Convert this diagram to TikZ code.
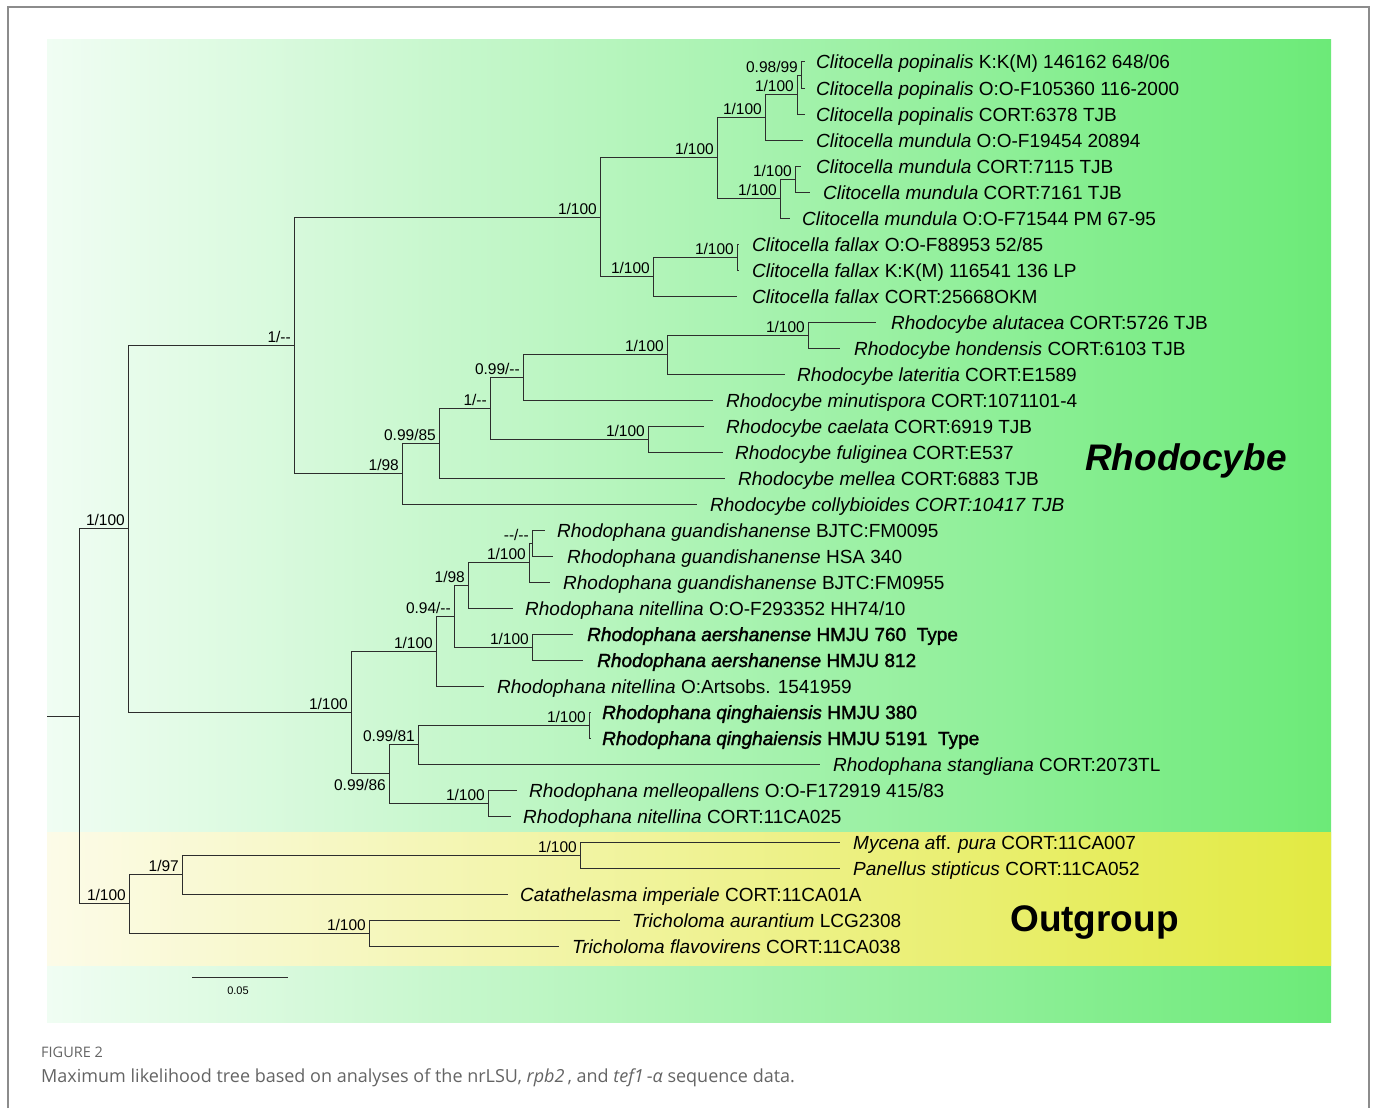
\documentclass[tikz,border=0pt]{standalone}
\usepackage{fontspec}
\setmainfont{Liberation Sans}
\newfontfamily\capfont{Open Sans}
\newfontfamily\fbold{Liberation Sans}[FakeBold=1.6]
\usetikzlibrary{calc}
\definecolor{gl}{RGB}{240,253,243}
\definecolor{gr}{RGB}{108,234,120}
\definecolor{yl}{RGB}{252,251,232}
\definecolor{yr}{RGB}{226,234,66}
\definecolor{br}{RGB}{45,45,45}
\definecolor{framegray}{RGB}{140,140,140}
\definecolor{capgray}{RGB}{100,100,100}
\newcommand\dd{-\kern0pt-}
\newcommand\tb[2]{{\fbold\itshape #1} {\fbold #2}}
\tikzset{
  branch/.style={draw=br, line width=1pt},
  taxon/.style={anchor=base west, inner sep=0pt, font=\fontsize{19}{19}\selectfont},
  supp/.style={anchor=base east, inner sep=0pt, font=\fontsize{15.5}{15.5}\selectfont},
  biglab/.style={anchor=base west, inner sep=0pt, font=\fontsize{37}{37}\selectfont\bfseries},
  capt/.style={anchor=base west, inner sep=0pt, text=capgray},
}
% #1 name, #2 parent, #3 row y, #4 line end x, #5 text x, #6 text
\newcommand\mytip[6]{%
  \coordinate (#1e) at (#4,#3);
  \node[taxon] (#1) at (#5,#3+7) {#6};
  \draw[branch] (#2) |- (#1e);
}
% #1 node, #2 text
\newcommand\mysupp[2]{%
  \node[supp] (l#1) at ($(#1)+(-3,-3)$) {#2};
}
\begin{document}
\begin{tikzpicture}[x=1pt,y=-1pt]
\useasboundingbox (0,0) rectangle (1375,1108);
% backgrounds
\shade[left color=gl, right color=gr] (47,40) rectangle (1331,1022);
\shade[left color=yl, right color=yr] (47,832) rectangle (1331,965);
\draw[framegray, line width=1.5pt] (8,1108) -- (8,7) -- (1369,7) -- (1369,1108);

% internal nodes
\coordinate (root) at (47,716.3);
\coordinate (nA) at (79,716.3);
\coordinate (nB) at (128,528.9);
\coordinate (nC) at (294,345.4);
\coordinate (nD) at (600,217.2);
\coordinate (nF) at (717,157.9);
\coordinate (nI) at (765,117.25);
\coordinate (nK) at (797,94.5);
\coordinate (nL) at (801,75);
\coordinate (nJ) at (780,198.5);
\coordinate (nM) at (795,179);
\coordinate (nG) at (653,276.5);
\coordinate (nH) at (737,257);
\coordinate (nE) at (402,473.5);
\coordinate (nN) at (439,443);
\coordinate (nP) at (490,408.1);
\coordinate (nQ) at (523,377.25);
\coordinate (nT) at (667,354.5);
\coordinate (nU) at (808,335);
\coordinate (nS) at (648,439);
\coordinate (nR) at (351,712.4);
\coordinate (nV) at (436,651);
\coordinate (nX) at (454,616.1);
\coordinate (nY) at (468,585.25);
\coordinate (nAA) at (529,562.5);
\coordinate (nAB) at (532,543);
\coordinate (nZ) at (532,647);
\coordinate (nW) at (389,773.75);
\coordinate (nAC) at (418,744.5);
\coordinate (nAE) at (589,725);
\coordinate (nAD) at (488,803);
\coordinate (nO) at (129,903.75);
\coordinate (nP1) at (182,874.5);
\coordinate (nP2) at (580,855);
\coordinate (nP3) at (369,933);

% internal branches
\draw[branch] (root) -- (nA);
\foreach \p/\c in {nA/nB, nA/nO, nB/nC, nB/nR, nC/nD, nC/nE, nD/nF, nD/nG,
  nF/nI, nF/nJ, nI/nK, nK/nL, nJ/nM, nG/nH, nE/nN, nN/nP, nP/nQ, nP/nS,
  nQ/nT, nT/nU, nR/nV, nR/nW, nV/nX, nX/nY, nX/nZ, nY/nAA, nAA/nAB,
  nW/nAC, nW/nAD, nAC/nAE, nO/nP1, nO/nP3, nP1/nP2}
  \draw[branch] (\p) |- (\c);

% tips
\mytip{t1}{nL}{62}{805}{816}{\textit{Clitocella popinalis} K:K(M) 146162 648/06}
\mytip{t2}{nL}{88}{805}{816}{\textit{Clitocella popinalis} O:O-F105360 116-2000}
\mytip{t3}{nK}{114}{805}{816}{\textit{Clitocella popinalis} CORT:6378 TJB}
\mytip{t4}{nI}{140}{803}{816}{\textit{Clitocella mundula} O:O-F19454 20894}
\mytip{t5}{nM}{166}{801}{816}{\textit{Clitocella mundula} CORT:7115 TJB}
\mytip{t6}{nM}{192}{810}{823}{\textit{Clitocella mundula} CORT:7161 TJB}
\mytip{t7}{nJ}{218}{790}{802}{\textit{Clitocella mundula} O:O-F71544 PM 67-95}
\mytip{t8}{nH}{244}{739}{752}{\textit{Clitocella fallax} O:O-F88953 52/85}
\mytip{t9}{nH}{270}{739}{752}{\textit{Clitocella fallax} K:K(M) 116541 136 LP}
\mytip{t10}{nG}{296}{737}{752}{\textit{Clitocella fallax} CORT:25668OKM}
\mytip{t11}{nU}{322}{876}{891}{\textit{Rhodocybe alutacea} CORT:5726 TJB}
\mytip{t12}{nU}{348}{840}{854}{\textit{Rhodocybe hondensis} CORT:6103 TJB}
\mytip{t13}{nT}{374}{785}{797}{\textit{Rhodocybe lateritia} CORT:E1589}
\mytip{t14}{nQ}{400}{713}{726}{\textit{Rhodocybe minutispora} CORT:1071101-4}
\mytip{t15}{nS}{426}{704}{726}{\textit{Rhodocybe caelata} CORT:6919 TJB}
\mytip{t16}{nS}{452}{723}{735}{\textit{Rhodocybe fuliginea} CORT:E537}
\mytip{t17}{nN}{478}{725}{738}{\textit{Rhodocybe mellea} CORT:6883 TJB}
\mytip{t18}{nE}{504}{697}{710}{\textit{Rhodocybe collybioides CORT:10417 TJB}}
\mytip{t19}{nAB}{530}{545}{557}{\textit{Rhodophana guandishanense} BJTC:FM0095}
\mytip{t20}{nAB}{556}{553}{567}{\textit{Rhodophana guandishanense} HSA 340}
\mytip{t21}{nAA}{582}{550}{563}{\textit{Rhodophana guandishanense} BJTC:FM0955}
\mytip{t22}{nY}{608}{513}{525}{\textit{Rhodophana nitellina} O:O-F293352 HH74/10}
\mytip{t23}{nZ}{634}{573}{587}{\tb{Rhodophana aershanense}{HMJU 760\ \ Type}}
\mytip{t24}{nZ}{660}{583}{597}{\tb{Rhodophana aershanense}{HMJU 812}}
\mytip{t25}{nV}{686}{484}{497}{\textit{Rhodophana nitellina} O:Artsobs. 1541959}
\mytip{t26}{nAE}{712}{591}{602}{\tb{Rhodophana qinghaiensis}{HMJU 380}}
\mytip{t27}{nAE}{738}{591}{602}{\tb{Rhodophana qinghaiensis}{HMJU 5191\ \ Type}}
\mytip{t28}{nAC}{764}{820}{833}{\textit{Rhodophana stangliana} CORT:2073TL}
\mytip{t29}{nAD}{790}{517}{529}{\textit{Rhodophana melleopallens} O:O-F172919 415/83}
\mytip{t30}{nAD}{816}{511}{523}{\textit{Rhodophana nitellina} CORT:11CA025}
\mytip{t31}{nP2}{842}{840}{853}{\textit{Mycena a}ff. \textit{pura} CORT:11CA007}
\mytip{t32}{nP2}{868}{840}{853}{\textit{Panellus stipticus} CORT:11CA052}
\mytip{t33}{nP1}{894}{508}{520}{\textit{Catathelasma imperiale} CORT:11CA01A}
\mytip{t34}{nP3}{920}{620}{632}{\textit{Tricholoma aurantium} LCG2308}
\mytip{t35}{nP3}{946}{559}{572}{\textit{Tricholoma flavovirens} CORT:11CA038}

% support values
\mysupp{nB}{1/100}
\mysupp{nC}{1/\dd}
\mysupp{nD}{1/100}
\mysupp{nF}{1/100}
\mysupp{nI}{1/100}
\mysupp{nK}{1/100}
\mysupp{nL}{0.98/99}
\mysupp{nJ}{1/100}
\mysupp{nM}{1/100}
\mysupp{nG}{1/100}
\mysupp{nH}{1/100}
\mysupp{nE}{1/98}
\mysupp{nN}{0.99/85}
\mysupp{nP}{1/\dd}
\mysupp{nQ}{0.99/\dd}
\mysupp{nT}{1/100}
\mysupp{nU}{1/100}
\mysupp{nS}{1/100}
\mysupp{nR}{1/100}
\mysupp{nV}{1/100}
\mysupp{nX}{0.94/\dd}
\mysupp{nY}{1/98}
\mysupp{nAA}{1/100}
\mysupp{nAB}{\dd/\dd}
\mysupp{nZ}{1/100}
\node[supp, anchor=north east] (lnW) at ($(nW)+(-3,5)$) {0.99/86};
\mysupp{nAC}{0.99/81}
\mysupp{nAE}{1/100}
\mysupp{nAD}{1/100}
\mysupp{nO}{1/100}
\mysupp{nP1}{1/97}
\mysupp{nP2}{1/100}
\mysupp{nP3}{1/100}

% group labels
\node[biglab, font=\fontsize{37}{37}\selectfont\bfseries\itshape] (rhodo) at (1085,470) {Rhodocybe};
\node[biglab] (outg) at (1010,931) {Outgroup};

% scale bar
\coordinate (sb1) at (192,977);
\coordinate (sb2) at (288,977);
\draw[branch] (sb1) -- (sb2);
\node[inner sep=0pt, font=\fontsize{11}{11}\selectfont] (sbl) at (238,991) {0.05};

% caption
\node[capt, font=\capfont\fontsize{14.5}{14.5}\selectfont] (figlab) at (41,1057) {FIGURE 2};
\node[capt, font=\capfont\fontsize{18}{18}\selectfont] (caption) at (41,1082) {Maximum likelihood tree based on analyses of the nrLSU, \textit{rpb2}\,, and \textit{tef1}\,-\textit{α} sequence data.};
\end{tikzpicture}
\end{document}
